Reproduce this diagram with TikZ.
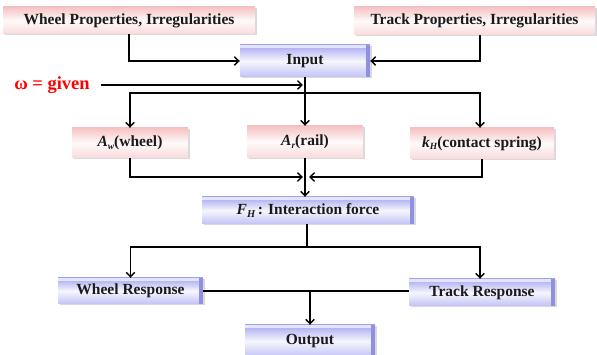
\documentclass[tikz,border=0pt]{standalone}
\usepackage{fontspec}
\setmainfont{Liberation Serif}
\usetikzlibrary{arrows.meta,shadows}
\definecolor{pinkT}{HTML}{F6C2C4}
\definecolor{pinkB}{HTML}{FADADB}
\definecolor{blueT}{HTML}{A6A6F0}
\definecolor{blueB}{HTML}{C2C2F6}
\definecolor{bevel}{HTML}{9090E0}
\definecolor{txt}{HTML}{1A1A1A}
\begin{document}
\begin{tikzpicture}[x=1pt,y=-1pt,
  base/.style={rectangle, inner sep=0pt, text=txt, font=\bfseries\fontsize{15.5}{17}\selectfont,
    drop shadow={shadow xshift=1.5pt, shadow yshift=-1.5pt, fill=black!25, opacity=0.6}},
  pinkbox/.style={base, top color=pinkT, bottom color=pinkB, middle color=white!92!pinkT},
  bluebox/.style={base, top color=blueT, bottom color=blueB, middle color=white!90!blueT},
  conn/.style={line width=1.4pt, black},
  arr/.style={conn, -{Straight Barb[length=4.5pt,width=8.5pt]}},
  bevelstrip/.style={fill=bevel}
]
\useasboundingbox (0,0) rectangle (597,355);

% boxes
\node[pinkbox, minimum width=252pt, minimum height=27pt] (wp) at (129,20.5) {Wheel Properties, Irregularities};
\node[pinkbox, minimum width=241pt, minimum height=28pt] (tp) at (474.5,21) {Track Properties, Irregularities};
\node[bluebox, minimum width=130pt, minimum height=32pt] (in) at (305,61) {Input};
\node[pinkbox, minimum width=116pt, minimum height=30pt] (aw) at (130,143) {\itshape A\raisebox{-0.35ex}{\fontsize{9.5}{10}\selectfont w}\upshape(wheel)};
\node[pinkbox, minimum width=116pt, minimum height=32pt] (ar) at (305,142) {\itshape A\raisebox{-0.35ex}{\fontsize{9.5}{10}\selectfont r}\upshape(rail)};
\node[pinkbox, minimum width=144pt, minimum height=31pt] (kh) at (482,143.5) {\itshape k\raisebox{-0.35ex}{\fontsize{9.5}{10}\selectfont H}\upshape(contact spring)};
\node[bluebox, minimum width=212pt, minimum height=27pt] (fh) at (308,210.5) {\itshape F\raisebox{-0.35ex}{\fontsize{10.5}{11}\selectfont H}\upshape\,: Interaction force};
\node[bluebox, minimum width=145pt, minimum height=26pt] (wr) at (130.5,291) {Wheel Response};
\node[bluebox, minimum width=146pt, minimum height=27pt] (tr) at (482,292.5) {Track Response};
\node[bluebox, minimum width=130pt, minimum height=32pt] (out) at (310,341) {Output};

% bevels on blue boxes
\foreach \n in {in,fh,wr,tr,out}{
  \fill[bevelstrip] ([xshift=-4pt]\n.north east) rectangle (\n.south east);
  \fill[white!70!blueT] (\n.north west) rectangle ([yshift=-3pt,xshift=-4pt]\n.north east);
}

% omega label
\node[text=red, font=\bfseries\fontsize{18.5}{20}\selectfont, inner sep=0pt] (om) at (52,85) {ω = given};

% coordinates of buses
\coordinate (bus1) at (305,93);
\coordinate (bus2) at (305,177);
\coordinate (bus3) at (307,247);

% connectors
\draw[arr] (wp.south) |- (in.west);
\draw[arr] ([xshift=5.5pt]tp.south) |- (in.east);
\draw[arr] ([xshift=11pt]om.east) -- ([xshift=-2pt]in.south |- om.east);
\draw[arr] (in.south) -- (ar.north);
\draw[arr] (bus1) -| (aw.north);
\draw[arr] (bus1) -| ([xshift=-2pt]kh.north);
\draw[arr] (aw.south) |- ([xshift=-2pt]bus2);
\draw[arr] (kh.south) |- ([xshift=4pt]bus2);
\draw[arr] (ar.south) -- (ar.south |- fh.north);
\draw[conn] (fh.south -| bus3) -- (bus3);
\draw[arr] (bus3) -| (wr.north);
\draw[arr] (bus3) -| ([xshift=-2pt]tr.north);
\draw[conn] (wr.east) -- (wr.east -| tr.west);
\draw[arr] (wr.east -| out.north) -- (out.north);
\end{tikzpicture}
\end{document}
